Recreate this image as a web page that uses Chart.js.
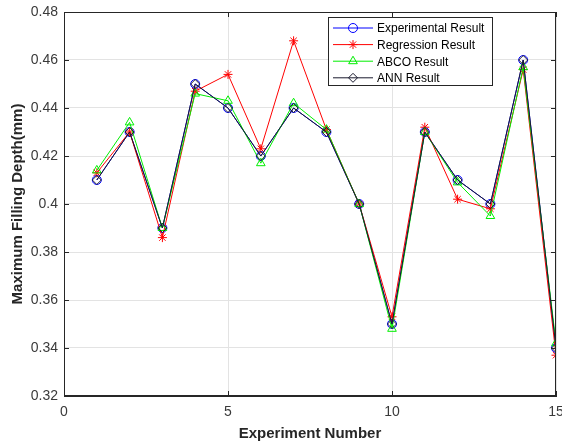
<!DOCTYPE html>
<html>
<head>
<meta charset="utf-8">
<script src="https://cdn.jsdelivr.net/npm/chart.js@4"></script>
<style>
  html, body { margin: 0; padding: 0; background: #fff; }
  #wrap { width: 562px; height: 443px; position: relative; }
</style>
</head>
<body>
<div id="wrap"><canvas id="chart" width="562" height="443"></canvas></div>
<script>
// experiment numbers 1..15
const experiments = [1, 2, 3, 4, 5, 6, 7, 8, 9, 10, 11, 12, 13, 14, 15];

const experimental = [0.410, 0.430, 0.390, 0.450, 0.440, 0.420, 0.440, 0.430, 0.400, 0.350, 0.430, 0.410, 0.400, 0.460, 0.340];
const regression   = [0.413, 0.430, 0.386, 0.447, 0.454, 0.423, 0.468, 0.431, 0.400, 0.353, 0.432, 0.402, 0.398, 0.456, 0.337];
const abco         = [0.414, 0.434, 0.390, 0.446, 0.443, 0.417, 0.442, 0.431, 0.400, 0.348, 0.430, 0.409, 0.395, 0.457, 0.342];
const ann          = [0.410, 0.430, 0.390, 0.450, 0.440, 0.420, 0.440, 0.430, 0.400, 0.350, 0.430, 0.410, 0.400, 0.460, 0.340];

const seriesNames = ['Experimental Result', 'Regression Result', 'ABCO Result', 'ANN Result'];
const yTicks = [0.32, 0.34, 0.36, 0.38, 0.4, 0.42, 0.44, 0.46, 0.48];
const xTicks = [0, 5, 10, 15];

const FONT = '"Liberation Sans", Arial, sans-serif';
const AXIS = '#262626';
const TICK = '#3a3a3a';

function pts(vals) {
  return vals.map((v, i) => ({ x: experiments[i], y: v }));
}

function makeSet(label, vals, color, style, radius, order) {
  return {
    label,
    data: pts(vals),
    borderColor: color,
    borderWidth: 1,
    pointStyle: style,
    pointRadius: radius,
    pointBorderColor: color,
    pointBackgroundColor: 'rgba(0,0,0,0)',
    pointBorderWidth: 1,
    pointHoverRadius: radius,
    tension: 0,
    order,
  };
}

// box, inward ticks and an inside legend, MATLAB-like
const matlabBox = {
  id: 'matlabBox',
  afterDatasetsDraw(chart) {
    const { ctx, chartArea: a, scales } = chart;
    ctx.save();
    ctx.strokeStyle = AXIS;
    ctx.lineWidth = 1;
    ctx.strokeRect(a.left + 0.5, a.top + 0.5, a.right - a.left - 1, a.bottom - a.top - 1);
    ctx.beginPath();
    yTicks.forEach(t => {
      const y = Math.round(scales.y.getPixelForValue(t)) + 0.5;
      ctx.moveTo(a.left, y); ctx.lineTo(a.left + 5, y);
      ctx.moveTo(a.right, y); ctx.lineTo(a.right - 5, y);
    });
    xTicks.forEach(t => {
      const x = Math.round(scales.x.getPixelForValue(t)) + 0.5;
      ctx.moveTo(x, a.bottom); ctx.lineTo(x, a.bottom - 5);
      ctx.moveTo(x, a.top); ctx.lineTo(x, a.top + 5);
    });
    ctx.stroke();

    // legend
    const lx = 328, ly = 17, lw = 164, lh = 68;
    ctx.fillStyle = '#fff';
    ctx.fillRect(lx, ly, lw, lh);
    ctx.strokeStyle = AXIS;
    ctx.strokeRect(lx + 0.5, ly + 0.5, lw, lh);
    ctx.font = '12px ' + FONT;
    ctx.textBaseline = 'middle';
    chart.data.datasets.forEach((ds, i) => {
      const y = ly + 11 + i * 16.6;
      ctx.strokeStyle = ds.borderColor;
      ctx.beginPath();
      ctx.moveTo(lx + 5, y); ctx.lineTo(lx + 45, y);
      ctx.stroke();
      ctx.fillStyle = 'rgba(0,0,0,0)';
      Chart.helpers.drawPoint(ctx, {
        pointStyle: ds.pointStyle, radius: ds.pointRadius, borderWidth: 1, rotation: 0
      }, lx + 25, y);
      ctx.fillStyle = '#000';
      ctx.fillText(ds.label, lx + 49, y + 1);
    });
    ctx.restore();
  }
};

new Chart(document.getElementById('chart'), {
  type: 'line',
  data: {
    datasets: [
      makeSet(seriesNames[0], experimental, '#0000ff', 'circle', 4.5, 3),
      makeSet(seriesNames[1], regression, '#ff0000', 'star', 4.5, 2),
      makeSet(seriesNames[2], abco, '#00ee00', 'triangle', 5, 1),
      makeSet(seriesNames[3], ann, '#1a1a2e', 'rectRot', 4.5, 0),
    ],
  },
  options: {
    responsive: false,
    animation: false,
    events: [],
    layout: { padding: { top: 12, right: 4, left: 0, bottom: 0 } },
    plugins: { legend: { display: false }, tooltip: { enabled: false } },
    scales: {
      x: {
        type: 'linear',
        min: 0, max: 15,
        afterFit: s => { s.height = 47; s.paddingLeft = 0; s.paddingRight = 0; },
        ticks: { stepSize: 5, color: TICK, font: { family: FONT, size: 14 }, padding: 8 },
        grid: { color: '#e3e3e3', drawTicks: false },
        border: { color: AXIS },
        title: { display: true, text: 'Experiment Number', color: AXIS, font: { family: FONT, size: 15, weight: 'bold' }, padding: { top: 1, bottom: 0 } },
      },
      y: {
        min: 0.32, max: 0.48,
        afterFit: s => { s.width = 64; s.paddingTop = 0; s.paddingBottom = 0; },
        afterBuildTicks: s => { s.ticks = yTicks.map(v => ({ value: v })); },
        ticks: {
          color: TICK, font: { family: FONT, size: 14 }, padding: 6,
          callback: v => String(+v.toFixed(2)),
        },
        grid: { color: '#e3e3e3', drawTicks: false },
        border: { color: AXIS },
        title: { display: true, text: 'Maximum Filling Depth(mm)', color: AXIS, font: { family: FONT, size: 15, weight: 'bold' }, padding: { top: 9, bottom: 0 } },
      },
    },
  },
  plugins: [matlabBox],
});
</script>
</body>
</html>
